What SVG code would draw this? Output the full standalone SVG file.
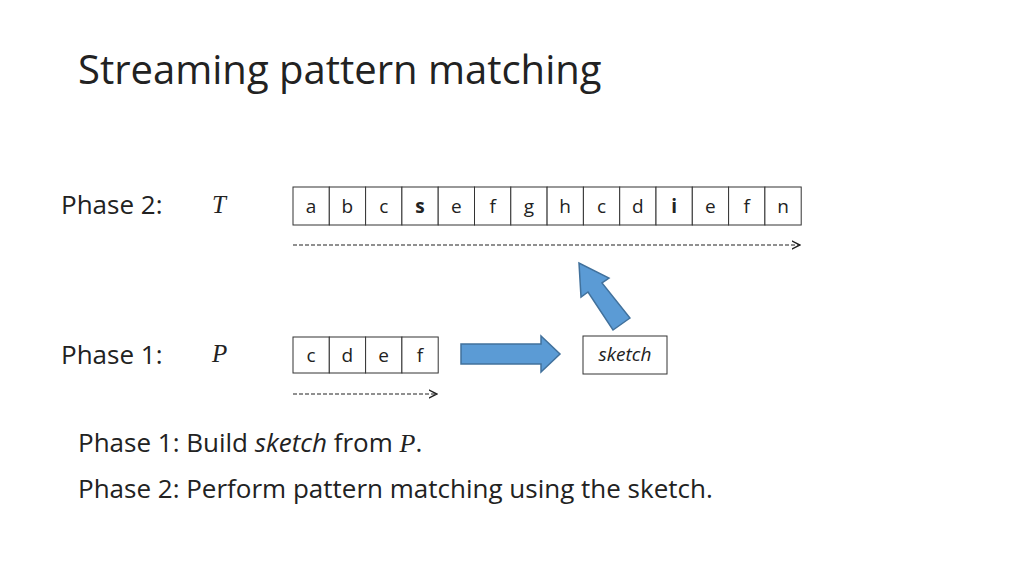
<svg xmlns="http://www.w3.org/2000/svg" width="1024" height="576" viewBox="0 0 1024 576">
<style>
text{font-family:"Open Sans","Liberation Sans",sans-serif;fill:#222}
.c{font-size:19px;text-anchor:middle}
.cell{fill:#fff;stroke:#333;stroke-width:1}
.lbl{font-size:26px}
.m{font-family:"Liberation Serif",serif;font-style:italic;font-size:25px}
.dash{stroke:#222;stroke-width:1.2;stroke-dasharray:4,2;fill:none}
.blk{fill:#5b9bd5;stroke:#41719c;stroke-width:1.5}
</style>
<defs><marker id="ah" markerWidth="8" markerHeight="8" refX="7" refY="4" orient="auto"><path d="M0,0.5 L7,4 L0,7.5" fill="none" stroke="#222" stroke-width="1.2"/></marker></defs>
<rect width="1024" height="576" fill="#fff"/>
<text x="78" y="84" style="font-size:40px">Streaming pattern matching</text>
<g id="labels">
<text class="lbl" x="61" y="214">Phase 2:</text>
<text class="m" x="212" y="213">T</text>
<text class="lbl" x="61" y="364">Phase 1:</text>
<text class="m" x="212" y="362">P</text>
</g>
<g id="T">
<rect class="cell" x="293" y="187" width="36.3" height="38"/><text class="c" x="311" y="213">a</text>
<rect class="cell" x="329.3" y="187" width="36.3" height="38"/><text class="c" x="347.4" y="213">b</text>
<rect class="cell" x="365.6" y="187" width="36.3" height="38"/><text class="c" x="383.7" y="213">c</text>
<rect class="cell" x="401.9" y="187" width="36.3" height="38"/><text class="c" x="420" y="213" font-weight="bold">s</text>
<rect class="cell" x="438.2" y="187" width="36.3" height="38"/><text class="c" x="456.3" y="213">e</text>
<rect class="cell" x="474.5" y="187" width="36.3" height="38"/><text class="c" x="492.6" y="213">f</text>
<rect class="cell" x="510.8" y="187" width="36.3" height="38"/><text class="c" x="528.9" y="213">g</text>
<rect class="cell" x="547.1" y="187" width="36.3" height="38"/><text class="c" x="565.2" y="213">h</text>
<rect class="cell" x="583.4" y="187" width="36.3" height="38"/><text class="c" x="601.5" y="213">c</text>
<rect class="cell" x="619.7" y="187" width="36.3" height="38"/><text class="c" x="637.8" y="213">d</text>
<rect class="cell" x="656" y="187" width="36.3" height="38"/><text class="c" x="674.1" y="213" font-weight="bold">i</text>
<rect class="cell" x="692.3" y="187" width="36.3" height="38"/><text class="c" x="710.4" y="213">e</text>
<rect class="cell" x="728.6" y="187" width="36.3" height="38"/><text class="c" x="746.7" y="213">f</text>
<rect class="cell" x="764.9" y="187" width="36.3" height="38"/><text class="c" x="783" y="213">n</text>
</g>
<g id="P">
<rect class="cell" x="293" y="337" width="36.3" height="36"/><text class="c" x="311" y="362">c</text>
<rect class="cell" x="329.3" y="337" width="36.3" height="36"/><text class="c" x="347.4" y="362">d</text>
<rect class="cell" x="365.6" y="337" width="36.3" height="36"/><text class="c" x="383.7" y="362">e</text>
<rect class="cell" x="401.9" y="337" width="36.3" height="36"/><text class="c" x="420" y="362">f</text>
</g>
<g id="sketch">
<rect class="cell" x="583" y="336" width="84" height="38"/>
<text class="c" x="625" y="361" font-style="italic">sketch</text>
</g>
<g id="connectors">
<line class="dash" x1="293" y1="245" x2="800" y2="245" marker-end="url(#ah)"/>
<line class="dash" x1="293" y1="394" x2="437" y2="394" marker-end="url(#ah)"/>
<path class="blk" d="M461,344 L541,344 L541,336 L560,354 L541,372 L541,364 L461,364 Z"/>
<path class="blk" d="M630,318 L613,330 L588,292 L581,297 L579,263 L609,278 L602,283 Z"/>
</g>
<g id="notes">
<text class="lbl" x="78" y="452">Phase 1: Build <tspan font-style="italic">sketch</tspan> from <tspan style="font-family:'Liberation Serif',serif;font-style:italic">P</tspan>.</text>
<text class="lbl" x="78" y="498">Phase 2: Perform pattern matching using the sketch.</text>
</g>
</svg>
